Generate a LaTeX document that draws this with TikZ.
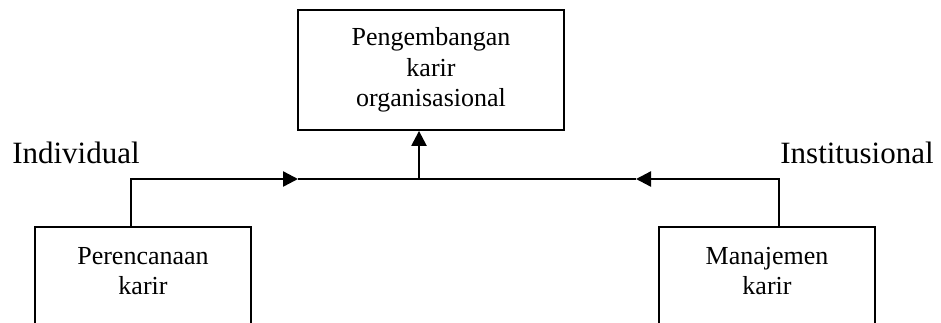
\documentclass[tikz,border=0pt]{standalone}
\usepackage{fontspec}
\setmainfont{Liberation Serif}
\usetikzlibrary{arrows.meta}
\begin{document}
\begin{tikzpicture}[x=1pt,y=-1pt,
  boxstyle/.style={draw,line width=1.8pt,inner sep=0pt},
  boxtext/.style={align=center,font=\fontsize{26}{30.5}\selectfont,inner sep=0pt},
  sidelabel/.style={font=\fontsize{31}{36}\selectfont,inner sep=0pt,anchor=base},
  conn/.style={line width=2.4pt},
  tip/.style={-{Triangle[length=15pt,width=15pt]}}]
\useasboundingbox (0,0) rectangle (941,322);
\clip (0,0) rectangle (941,322);
% top box
\node[boxstyle,minimum width=266pt,minimum height=120pt] (top) at (431,70) {};
\node[boxtext] (toptext) at (431,70) {Pengembangan\\karir\\organisasional};
% bottom boxes (extend beyond bottom edge)
\node[boxstyle,minimum width=216pt,minimum height=140pt,anchor=north] (left) at (143,226) {};
\node[boxtext] (lefttext) at (143,271) {Perencanaan\\karir};
\node[boxstyle,minimum width=216pt,minimum height=140pt,anchor=north] (right) at (767,226) {};
\node[boxtext] (righttext) at (767,271) {Manajemen\\karir};
% labels
\node[sidelabel] (indiv) at (76,163) {Individual};
\node[sidelabel] (inst) at (857,163) {Institusional};
% connectors
\coordinate (lt) at (298,179);
\coordinate (rt) at (636,179);
\coordinate (mid) at (419,179);
\draw[conn,tip] (left.north -| 131,0) |- (lt);
\draw[conn,tip] (right.north -| 779,0) |- (rt);
\draw[line width=1.3pt] (lt) -- (rt);
\draw[conn,tip] (mid) -- (mid |- top.south);
\end{tikzpicture}
\end{document}
